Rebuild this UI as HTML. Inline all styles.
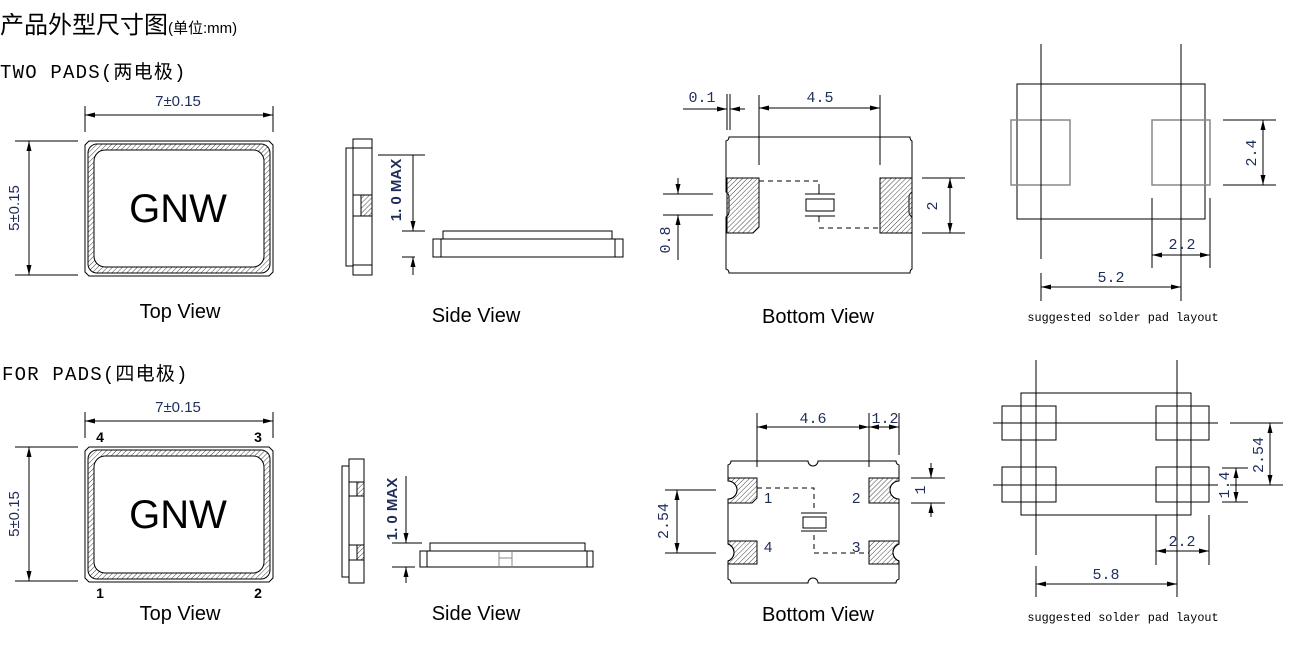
<!DOCTYPE html>
<html><head><meta charset="utf-8"><style>
html,body{margin:0;padding:0;background:#fff;width:1300px;height:650px;overflow:hidden}
svg{display:block}
.t{font-family:"Liberation Sans","Noto Sans CJK SC",sans-serif;fill:#000}
.m{font-family:"Liberation Mono","Noto Sans CJK SC",monospace;fill:#000}
.d{font-family:"Liberation Sans",sans-serif;fill:#1f2d5a;font-size:15px}
.dm{font-family:"Liberation Mono",monospace;fill:#1f2d5a;font-size:15px}
line,path,rect,polyline{stroke:#000;stroke-width:1;fill:none}
.dim{marker-start:url(#a);marker-end:url(#a)}
.h{fill:url(#hatch)}
.g{stroke:#888;stroke-width:2}
.dash{stroke-dasharray:5,4}
</style></head><body>
<svg width="1300" height="650" viewBox="0 0 1300 650" xmlns="http://www.w3.org/2000/svg">
<defs>
<pattern id="hatch" patternUnits="userSpaceOnUse" width="3.5" height="3.5" patternTransform="rotate(45)">
<line x1="0" y1="0" x2="0" y2="3.5" style="stroke:#444;stroke-width:1"/>
</pattern>
<marker id="a" markerWidth="10" markerHeight="6" refX="10" refY="3" orient="auto-start-reverse" markerUnits="userSpaceOnUse">
<path d="M0,0.5 L10,3 L0,5.5 Z" style="fill:#000;stroke:none"/>
</marker>
<g id="tv">
<path d="M4,0 H184 L188,4 V131 L184,135 H4 L0,131 V4 Z"/>
<path class="h" fill-rule="evenodd" d="M12,3 H176 A9,9 0 0 1 185,12 V123 A9,9 0 0 1 176,132 H12 A9,9 0 0 1 3,123 V12 A9,9 0 0 1 12,3 Z M20,9 H168 A11,11 0 0 1 179,20 V115 A11,11 0 0 1 168,126 H20 A11,11 0 0 1 9,115 V20 A11,11 0 0 1 20,9 Z" style="stroke:#000"/>
</g>
</defs>

<!-- titles -->
<text class="t" x="0" y="33" font-size="24">产品外型尺寸图<tspan font-size="15">(单位:mm)</tspan></text>
<text class="m" x="0" y="78" font-size="19" letter-spacing="1.2">TWO PADS(两电极)</text>
<text class="m" x="2" y="380" font-size="19" letter-spacing="1.2">FOR PADS(四电极)</text>

<!-- ===== TOP SECTION ===== -->
<use href="#tv" x="85" y="141"/>
<text class="t" x="178" y="222" font-size="40" text-anchor="middle">GNW</text>
<line x1="85" y1="106" x2="85" y2="132"/><line x1="273" y1="106" x2="273" y2="132"/>
<line class="dim" x1="85" y1="115" x2="273" y2="115"/>
<text class="d" x="178" y="106" text-anchor="middle">7±0.15</text>
<line x1="15" y1="141" x2="78" y2="141"/><line x1="15" y1="275" x2="78" y2="275"/>
<line class="dim" x1="29" y1="141" x2="29" y2="275"/>
<text class="d" transform="translate(19,208) rotate(-90)" text-anchor="middle">5±0.15</text>
<text class="t" x="180" y="318" font-size="20" text-anchor="middle">Top View</text>

<!-- side view -->
<rect x="353" y="139" width="19" height="136"/>
<path d="M353,148 H346 V266 H353"/>
<line x1="353" y1="148" x2="372" y2="148"/><line x1="353" y1="265" x2="372" y2="265"/>
<rect class="h" x="361" y="195" width="11" height="21"/>
<line x1="353" y1="195" x2="361" y2="195"/><line x1="353" y1="216" x2="361" y2="216"/>
<line x1="378" y1="155" x2="425" y2="155"/>
<line x1="402" y1="231" x2="425" y2="231"/><line x1="402" y1="257" x2="415" y2="257"/>
<line x1="413" y1="155" x2="413" y2="231" style="marker-end:url(#a)"/>
<line x1="413" y1="275" x2="413" y2="257" style="marker-end:url(#a)"/>
<text class="d" font-weight="bold" font-size="13" transform="translate(401,190) rotate(-90)" text-anchor="middle">1. 0 MAX</text>
<rect x="433" y="239" width="190" height="18"/>
<path d="M443,239 V231 H612 V239"/>
<line x1="441" y1="239" x2="441" y2="257"/><line x1="615" y1="239" x2="615" y2="257"/>
<text class="t" x="476" y="322" font-size="20" text-anchor="middle">Side View</text>

<!-- bottom view -->
<path d="M729,137 H910 Q910,140 912,141 V192 Q909,194 909,197 V212 Q909,215 912,217 V269 Q910,270 910,273 H729 Q729,270 726,269 V217 Q729,215 729,212 V197 Q729,194 726,192 V141 Q729,140 729,137 Z"/>
<path class="h" d="M727,178 H759 V227 L753,233 H727 Z"/>
<rect class="h" x="880" y="178" width="32" height="55"/>
<polyline class="dash" points="759,181 819,181 819,192"/>
<polyline class="dash" points="819,228 880,228"/>
<line x1="819" y1="186" x2="819" y2="194"/><line x1="819" y1="216" x2="819" y2="222"/>
<line x1="805" y1="194" x2="835" y2="194"/><line x1="805" y1="216" x2="835" y2="216"/>
<rect x="806" y="199" width="28" height="12"/>
<line x1="727" y1="94" x2="727" y2="130"/><line x1="730" y1="94" x2="730" y2="130"/>
<line x1="683" y1="109" x2="727" y2="109" style="marker-end:url(#a)"/>
<line x1="745" y1="109" x2="730" y2="109" style="marker-end:url(#a)"/>
<text class="dm" x="702" y="102" text-anchor="middle">0.1</text>
<line x1="759" y1="95" x2="759" y2="165"/><line x1="880" y1="95" x2="880" y2="165"/>
<line class="dim" x1="759" y1="108" x2="880" y2="108"/>
<text class="dm" x="820" y="102" text-anchor="middle">4.5</text>
<line x1="663" y1="194" x2="713" y2="194"/><line x1="663" y1="215" x2="713" y2="215"/>
<line x1="678" y1="178" x2="678" y2="194" style="marker-end:url(#a)"/>
<line x1="678" y1="260" x2="678" y2="215" style="marker-end:url(#a)"/>
<text class="dm" transform="translate(670,240) rotate(-90)" text-anchor="middle">0.8</text>
<line x1="922" y1="178" x2="965" y2="178"/><line x1="922" y1="233" x2="965" y2="233"/>
<line class="dim" x1="950" y1="178" x2="950" y2="233"/>
<text class="dm" transform="translate(937,206) rotate(-90)" text-anchor="middle">2</text>
<text class="t" x="818" y="323" font-size="20" text-anchor="middle">Bottom View</text>

<!-- solder layout top -->
<rect x="1017" y="84" width="188" height="135"/>
<rect class="g" x="1011" y="120" width="59" height="65" style="stroke-width:1.5"/>
<rect class="g" x="1152" y="120" width="58" height="65" style="stroke-width:1.5"/>
<line x1="1041" y1="44" x2="1041" y2="259"/><line x1="1181" y1="44" x2="1181" y2="301"/>
<line x1="1223" y1="120" x2="1276" y2="120"/><line x1="1223" y1="185" x2="1276" y2="185"/>
<line class="dim" x1="1263" y1="120" x2="1263" y2="185"/>
<text class="dm" transform="translate(1256,153) rotate(-90)" text-anchor="middle">2.4</text>
<line x1="1152" y1="198" x2="1152" y2="268"/><line x1="1210" y1="198" x2="1210" y2="268"/>
<line class="dim" x1="1152" y1="255" x2="1210" y2="255"/>
<text class="dm" x="1182" y="249" text-anchor="middle">2.2</text>
<line x1="1041" y1="273" x2="1041" y2="301"/>
<line class="dim" x1="1041" y1="287" x2="1181" y2="287"/>
<text class="dm" x="1111" y="282" text-anchor="middle">5.2</text>
<text class="m" x="1123" y="321" font-size="11.8" text-anchor="middle">suggested solder pad layout</text>

<!-- ===== BOTTOM SECTION ===== -->
<use href="#tv" x="85" y="447"/>
<text class="t" x="178" y="528" font-size="40" text-anchor="middle">GNW</text>
<line x1="85" y1="412" x2="85" y2="438"/><line x1="273" y1="412" x2="273" y2="438"/>
<line class="dim" x1="85" y1="421" x2="273" y2="421"/>
<text class="d" x="178" y="412" text-anchor="middle">7±0.15</text>
<line x1="15" y1="447" x2="78" y2="447"/><line x1="15" y1="581" x2="78" y2="581"/>
<line class="dim" x1="29" y1="447" x2="29" y2="581"/>
<text class="d" transform="translate(19,514) rotate(-90)" text-anchor="middle">5±0.15</text>
<text class="t" x="100" y="442" font-size="14" font-weight="bold" text-anchor="middle">4</text>
<text class="t" x="258" y="442" font-size="14" font-weight="bold" text-anchor="middle">3</text>
<text class="t" x="100" y="598" font-size="14" font-weight="bold" text-anchor="middle">1</text>
<text class="t" x="258" y="598" font-size="14" font-weight="bold" text-anchor="middle">2</text>
<text class="t" x="180" y="620" font-size="20" text-anchor="middle">Top View</text>

<!-- side view 2 -->
<rect x="349" y="459" width="15" height="124"/>
<path d="M349,466 H342 V577 H349"/>
<rect class="h" x="357" y="482" width="7" height="14"/>
<line x1="349" y1="482" x2="357" y2="482"/><line x1="349" y1="496" x2="357" y2="496"/>
<rect class="h" x="357" y="545" width="7" height="15"/>
<line x1="349" y1="545" x2="357" y2="545"/><line x1="349" y1="560" x2="357" y2="560"/>
<line x1="392" y1="543" x2="422" y2="543"/><line x1="392" y1="567" x2="415" y2="567"/>
<line x1="406" y1="476" x2="406" y2="543" style="marker-end:url(#a)"/>
<line x1="406" y1="583" x2="406" y2="567" style="marker-end:url(#a)"/>
<text class="d" font-weight="bold" font-size="13" transform="translate(397,509) rotate(-90)" text-anchor="middle">1. 0 MAX</text>
<rect x="420" y="551" width="173" height="16"/>
<path d="M430,551 V543 H585 V551"/>
<line x1="427" y1="551" x2="427" y2="567"/><line x1="587" y1="551" x2="587" y2="567"/>
<path d="M499,551 V567 M512,551 V567 M499,558 H512" style="stroke:#888"/>
<text class="t" x="476" y="620" font-size="20" text-anchor="middle">Side View</text>

<!-- bottom view 2 -->
<path d="M731,461 H808 A5,5 0 0 0 818,461 H896 Q896,464 899,465 V481 A9,9 0 0 0 899,499 V544 A9,9 0 0 0 899,561 V579 Q896,580 896,583 H818 A5,5 0 0 0 808,583 H731 Q731,580 728,579 V561 A9,9 0 0 0 728,544 V499 A9,9 0 0 0 728,481 V465 Q731,464 731,461 Z"/>
<path class="h" d="M728,478 H757 V498 L752,503 H728 V499 A9,9 0 0 0 728,481 Z"/>
<path class="h" d="M728,541 H757 V564 H728 V561 A9,9 0 0 0 728,544 Z"/>
<path class="h" d="M869,478 H899 V481 A9,9 0 0 0 899,499 V503 H869 Z"/>
<path class="h" d="M869,541 H899 V544 A9,9 0 0 0 899,561 V564 H869 Z"/>
<text class="d" x="764" y="503" font-size="14">1</text>
<text class="d" x="852" y="503" font-size="14">2</text>
<text class="d" x="764" y="552" font-size="14">4</text>
<text class="d" x="852" y="552" font-size="14">3</text>
<polyline class="dash" points="757,488 814,488 814,510"/>
<polyline class="dash" points="814,535 814,553 869,553"/>
<line x1="801" y1="513" x2="827" y2="513"/><line x1="801" y1="531" x2="827" y2="531"/>
<rect x="803" y="517" width="23" height="11"/>
<line x1="757" y1="413" x2="757" y2="467"/><line x1="869" y1="413" x2="869" y2="467"/>
<line x1="899" y1="413" x2="899" y2="455"/>
<line class="dim" x1="757" y1="427" x2="869" y2="427"/>
<line class="dim" x1="869" y1="427" x2="899" y2="427"/>
<text class="dm" x="813" y="423" text-anchor="middle">4.6</text>
<text class="dm" x="885" y="423" text-anchor="middle">1.2</text>
<line x1="911" y1="478" x2="945" y2="478"/><line x1="911" y1="503" x2="945" y2="503"/>
<line x1="931" y1="463" x2="931" y2="478" style="marker-end:url(#a)"/>
<line x1="931" y1="517" x2="931" y2="503" style="marker-end:url(#a)"/>
<text class="dm" transform="translate(925,490) rotate(-90)" text-anchor="middle">1</text>
<line x1="665" y1="490" x2="716" y2="490"/><line x1="665" y1="553" x2="716" y2="553"/>
<line class="dim" x1="677" y1="490" x2="677" y2="553"/>
<text class="dm" transform="translate(668,521) rotate(-90)" text-anchor="middle">2.54</text>
<text class="t" x="818" y="621" font-size="20" text-anchor="middle">Bottom View</text>

<!-- solder layout bottom -->
<rect x="1021" y="393" width="170" height="122"/>
<rect x="1002" y="406" width="54" height="34"/>
<rect x="1002" y="467" width="54" height="35"/>
<rect x="1156" y="406" width="53" height="34"/>
<rect x="1156" y="467" width="53" height="35"/>
<line x1="1036" y1="360" x2="1036" y2="555"/><line x1="1177" y1="360" x2="1177" y2="597"/>
<line x1="993" y1="423" x2="1218" y2="423"/><line x1="993" y1="485" x2="1218" y2="485"/>
<line x1="1230" y1="423" x2="1283" y2="423"/><line x1="1230" y1="485" x2="1283" y2="485"/>
<line class="dim" x1="1270" y1="423" x2="1270" y2="485"/>
<text class="dm" transform="translate(1263,455) rotate(-90)" text-anchor="middle">2.54</text>
<line x1="1222" y1="468" x2="1248" y2="468"/><line x1="1222" y1="502" x2="1248" y2="502"/>
<line class="dim" x1="1236" y1="468" x2="1236" y2="502"/>
<text class="dm" transform="translate(1229,485) rotate(-90)" text-anchor="middle">1.4</text>
<line x1="1156" y1="515" x2="1156" y2="565"/><line x1="1209" y1="515" x2="1209" y2="565"/>
<line class="dim" x1="1156" y1="551" x2="1209" y2="551"/>
<text class="dm" x="1182" y="546" text-anchor="middle">2.2</text>
<line x1="1036" y1="566" x2="1036" y2="597"/>
<line class="dim" x1="1036" y1="584" x2="1177" y2="584"/>
<text class="dm" x="1106" y="579" text-anchor="middle">5.8</text>
<text class="m" x="1123" y="621" font-size="11.8" text-anchor="middle">suggested solder pad layout</text>
</svg>
</body></html>
